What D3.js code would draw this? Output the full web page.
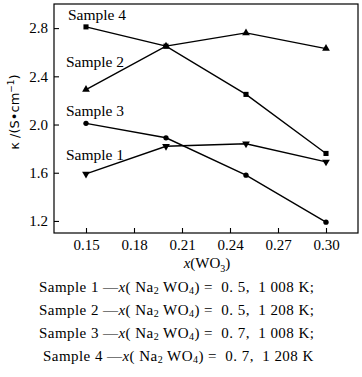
<!DOCTYPE html>
<html>
<head>
<meta charset="utf-8">
<script src="https://cdn.jsdelivr.net/npm/d3@7"></script>
<style>
  body { margin: 0; background: #fff; }
  svg { display: block; font-family: "Liberation Serif", "DejaVu Serif", serif; }
  .legend-row { white-space: pre; }
</style>
</head>
<body>
<svg id="chart" width="362" height="377"></svg>
<script>
// x(WO3) 取值
let xValues = [0.15, 0.20, 0.25, 0.30];
let sample1 = [1.59, 1.82, 1.84, 1.69];
let sample2 = [2.29, 2.65, 2.76, 2.63];
let sample3 = [2.01, 1.89, 1.58, 1.19];
let sample4 = [2.81, 2.65, 2.25, 1.76];
let xTicks = [0.15, 0.18, 0.21, 0.24, 0.27, 0.30];
let yTicks = [1.2, 1.6, 2.0, 2.4, 2.8];
let seriesNames = ["Sample 1", "Sample 2", "Sample 3", "Sample 4"];
let legendLines = [
  ["Sample 1", "0. 5,", "1 008 K;"],
  ["Sample 2", "0. 5,", "1 208 K;"],
  ["Sample 3", "0. 7,", "1 008 K;"],
  ["Sample 4", "0. 7,", "1 208 K"]
];

let svg = d3.select("#chart");
let plotLeft = 54, plotRight = 358, plotTop = 4, plotBottom = 233;

let xScale = d3.scaleLinear().domain([0.13, 0.32]).range([plotLeft, plotRight]);
let yScale = d3.scaleLinear().domain([1.1, 3.0]).range([plotBottom, plotTop]);

// 坐标框
svg.append("rect")
   .attr("x", plotLeft).attr("y", plotTop)
   .attr("width", plotRight - plotLeft).attr("height", plotBottom - plotTop)
   .attr("fill", "none").attr("stroke", "#000").attr("stroke-width", 1.2);

// 坐标轴（刻度朝内）
let xAxis = d3.axisBottom(xScale).tickValues(xTicks).tickSize(-5).tickPadding(6)
              .tickFormat(d3.format(".2f"));
let gx = svg.append("g").attr("transform", "translate(0," + plotBottom + ")").call(xAxis);
gx.select(".domain").remove();
gx.selectAll("text").style("font-size", "15px").attr("font-family", "Liberation Serif");

let yAxis = d3.axisLeft(yScale).tickValues(yTicks).tickSize(-5).tickPadding(6)
              .tickFormat(d3.format(".1f"));
let gy = svg.append("g").attr("transform", "translate(" + plotLeft + ",0)").call(yAxis);
gy.select(".domain").remove();
gy.selectAll("text").style("font-size", "15px").attr("font-family", "Liberation Serif");
svg.selectAll(".tick line").attr("stroke-width", 1.1);

// 轴标题
let xt = svg.append("text").attr("x", 207).attr("y", 268)
   .attr("text-anchor", "middle").style("font-size", "15px");
xt.append("tspan").attr("font-style", "italic").text("x");
xt.append("tspan").text("(WO");
xt.append("tspan").attr("dy", 4).style("font-size", "10px").text("3");
xt.append("tspan").attr("dy", -4).text(")");

let yt = svg.append("text")
   .attr("transform", "translate(19,112) rotate(-90)")
   .attr("text-anchor", "middle")
   .attr("font-family", "DejaVu Sans").style("font-size", "13px");
yt.append("tspan").text("κ /(S•cm");
yt.append("tspan").attr("dy", -5).style("font-size", "9px").text("−1");
yt.append("tspan").attr("dy", 5).text(")");

// 折线与标记
let allSeries = [sample1, sample2, sample3, sample4];
let line = d3.line().x((d, i) => xScale(xValues[i])).y(d => yScale(d));
let symbols = [d3.symbolTriangle, d3.symbolTriangle, d3.symbolCircle, d3.symbolSquare];
let symSizes = [26, 26, 22, 26];
let rotations = [180, 0, 0, 0];

allSeries.forEach(function(s, k) {
  svg.append("path").datum(s)
     .attr("d", line).attr("fill", "none")
     .attr("stroke", "#000").attr("stroke-width", 1.4);
  svg.selectAll(".m" + k).data(s).enter().append("path")
     .attr("class", "m" + k)
     .attr("d", d3.symbol().type(symbols[k]).size(symSizes[k]))
     .attr("transform", (d, i) => "translate(" + xScale(xValues[i]) + "," + yScale(d) + ") rotate(" + rotations[k] + ")")
     .attr("fill", "#000");
});

// 系列标签
let labelPos = [[66, 160], [66, 67], [66, 116], [68, 20]];
seriesNames.forEach(function(n, k) {
  svg.append("text").attr("x", labelPos[k][0]).attr("y", labelPos[k][1])
     .style("font-size", "15.5px").text(n);
});

// 图注
let legendY = [292, 315, 338, 361];
let legendX = [39, 39, 39, 43];
legendLines.forEach(function(r, i) {
  let t = svg.append("text").attr("class", "legend-row")
     .attr("x", legendX[i]).attr("y", legendY[i])
     .style("font-size", "15px").style("letter-spacing", "0.45px");
  t.append("tspan").text(r[0] + " —");
  t.append("tspan").attr("font-style", "italic").text("x");
  t.append("tspan").text("( Na");
  t.append("tspan").attr("dy", 2).style("font-size", "10px").text("2");
  t.append("tspan").attr("dy", -2).text(" WO");
  t.append("tspan").attr("dy", 2).style("font-size", "10px").text("4");
  t.append("tspan").attr("dy", -2).text(") =  " + r[1] + "  " + r[2]);
});
</script>
</body>
</html>
